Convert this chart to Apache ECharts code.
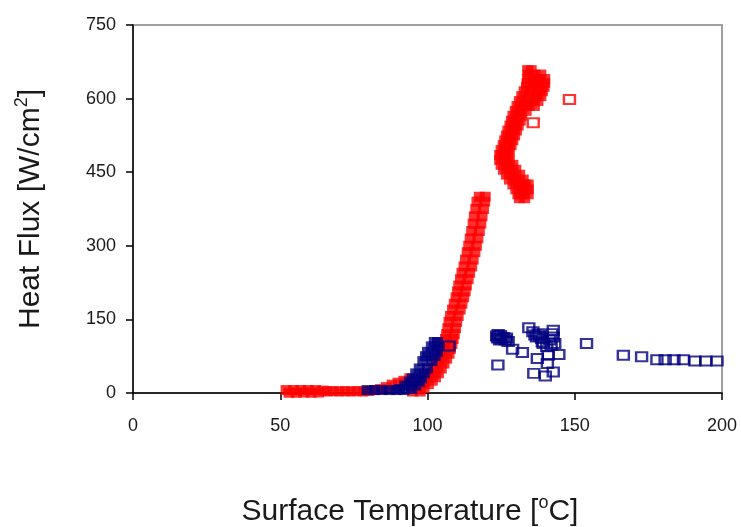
<!DOCTYPE html>
<html>
<head>
<meta charset="utf-8">
<script src="https://cdn.jsdelivr.net/npm/echarts@6/dist/echarts.min.js"></script>
<style>
html,body{margin:0;padding:0;background:#fff;}
#chart{width:741px;height:527px;}
</style>
</head>
<body>
<div id="chart"></div>
<script>
// Axis ticks
const xTicks = [0, 50, 100, 150, 200];
const yTicks = [0, 150, 300, 450, 600, 750];

// Red series: [surface temperature, heat flux]
const redFlat = [[52,6],[53,0.5],[54.5,6],[55.5,0.5],[57,6],[58,1],[59.5,6],[60.5,0.5],[62,6],[63,1],[64.5,5],[66,3],[68,4],[70,3],[72,4],[74,3],[76,4],[78,3],[80,4],[82,6],[84,8],[86,12],[88,17],[90,21],[92,25],[94,30]];
const redRiseA = [[94.9,3],[96.2,10],[97.7,18],[99.0,25],[100.1,32],[101.1,40],[102.1,50],[103.0,60],[103.9,70],[104.7,80],[105.2,90],[105.7,100],[106.1,110],[106.5,120],[106.9,132],[107.3,145],[107.8,157],[108.5,170],[109.1,182],[109.7,195],[110.2,207],[110.6,219],[111.2,232],[111.7,245],[112.4,258],[112.9,272],[113.5,287],[114.0,300],[114.5,315],[115.0,330],[115.5,345],[115.9,360],[116.4,375],[116.8,390],[117.6,400]];
const redRiseB = [[97.5,3],[98.8,10],[100.3,18],[101.6,25],[102.7,32],[103.7,40],[104.7,50],[105.6,60],[106.5,70],[107.3,80],[107.8,90],[108.3,100],[108.7,110],[109.1,120],[109.5,132],[109.9,145],[110.4,157],[111.1,170],[111.7,182],[112.3,195],[112.8,207],[113.2,219],[113.8,232],[114.3,245],[115.0,258],[115.5,272],[116.1,287],[116.6,300],[117.1,315],[117.6,330],[118.1,345],[118.5,360],[119.0,375],[119.4,390],[119.6,400]];
const redCluster = [
[134.0,658],[135.2,658],
[134.2,649],[136.5,649],[138.5,649],
[134.0,640],[136.0,640],[138.0,640],[139.8,640],
[133.8,632],[136.0,632],[138.2,632],[139.8,632],
[133.6,624],[135.8,624],[137.8,624],[139.6,624],
[132.8,615],[135.0,615],[137.2,615],[139.0,615],
[132.0,605],[134.5,605],[136.8,605],[138.5,605],
[131.2,595],[133.5,595],[135.8,595],[137.5,595],
[130.4,585],[132.5,585],[134.5,585],[136.3,585],
[129.8,575],[131.5,575],[133.5,575],
[129.0,565],[130.5,565],[132.0,565],
[128.5,555],[130.0,555],[131.5,555],
[128.0,545],[129.5,545],[130.8,545],
[127.3,535],[128.8,535],[130.2,535],
[126.8,525],[128.2,525],[129.6,525],
[126.2,515],[127.6,515],[129.0,515],
[125.7,505],[127.0,505],[128.4,505],
[125.0,495],[126.4,495],[127.8,495],
[124.5,485],[126.0,485],[127.3,485],
[124.5,475],[126.2,475],[127.8,475],
[125.0,465],[127.0,465],[129.0,465],
[125.8,455],[127.8,455],[130.0,455],
[126.8,445],[129.0,445],[131.3,445],
[127.8,435],[130.0,435],[132.5,435],
[129.0,425],[131.0,425],[133.2,425],[134.2,425],
[130.0,415],[132.0,415],[134.2,415],
[130.7,405],[132.5,405],[134.2,405],
[131.2,397],[133.0,397]
];
const redSparse = [[148.2,598],[135.9,551]];

// Blue series
const blueFlat = [[79.5,6],[82,6],[84.5,6],[87,6],[89.5,6],[92,6]];
const blueRiseLeft = [[90.5,8],[92.3,15],[93.8,23],[94.8,30],[96.0,40],[97.2,50],[98.4,65],[99.3,75],[100.0,84],[101.3,95],[102.3,104]];
const blueRiseRight = [[94.6,8],[96.0,15],[97.2,23],[98.0,30],[99.0,40],[100.0,50],[101.5,65],[102.6,75],[103.4,84],[103.4,95],[103.4,104]];
const blueSparse = [[107.3,96],
[123.8,112],[124.8,117],[125.8,113],[126.5,108],[127.4,105],[124.5,108],[123.5,116],[125.2,110],[126.8,112],[124.0,119],
[128.9,89],[132.2,82.5],[123.9,57],
[134.4,133],[135.8,124.6],[137.6,121],[137.0,114],[138.8,111],[139.3,101],[140.5,94],[139.0,104],[141.5,108],[136.5,118],[138.0,116],
[142.7,128],[142.7,114],[143.2,101],[142.0,97.5],[142.2,121],
[137.3,70.5],[141.0,77],[144.6,78.5],[140.7,60],
[136.1,40],[140.0,34.5],[142.7,43],
[154.0,101],[166.5,77],[172.7,74],[177.9,68],[180.7,68],[183.7,68],[186.9,68],[190.8,65],[194.5,65],[198.3,65]];

const RED = '#ff0000', BLUE = '#000080';
const FONT = "'Liberation Sans', Arial, sans-serif";

const chart = echarts.init(document.getElementById('chart'), null, {renderer: 'canvas'});

function axisCommon(){
  return {
    type: 'value',
    splitLine: {show: false},
    axisLine: {show: true, onZero: false, lineStyle: {color: '#000', width: 1.5}},
    axisTick: {show: true, length: 7, lineStyle: {color: '#000', width: 1.5}},
  };
}

chart.setOption({
  animation: false,
  backgroundColor: '#fff',
  grid: {left: 133, right: 19, top: 25, bottom: 134, containLabel: false, outerBoundsMode: 'none',
         show: true, borderColor: '#a0a0a0', borderWidth: 2, backgroundColor: 'transparent'},
  xAxis: Object.assign(axisCommon(), {
    min: xTicks[0], max: xTicks[xTicks.length-1], interval: xTicks[1]-xTicks[0],
    axisLabel: {fontSize: 18, color: '#1a1a1a', margin: 24, fontFamily: FONT},
    name: '{a|Surface Temperature [}{s|o}{a|C]}',
    nameLocation: 'middle', nameGap: 101,
    nameTextStyle: {padding: [0, 35, 0, 0], rich: {
      a: {fontSize: 30, lineHeight: 36, color: '#1a1a1a', fontFamily: FONT},
      s: {fontSize: 18, lineHeight: 18, verticalAlign: 'top', color: '#1a1a1a', fontFamily: FONT}
    }}
  }),
  yAxis: Object.assign(axisCommon(), {
    min: yTicks[0], max: yTicks[yTicks.length-1], interval: yTicks[1]-yTicks[0],
    axisLabel: {fontSize: 18, color: '#1a1a1a', margin: 17, fontFamily: FONT},
    name: '{a|Heat Flux [W/cm}{s|2}{a|]}',
    nameLocation: 'middle', nameGap: 84,
    nameTextStyle: {rich: {
      a: {fontSize: 30, lineHeight: 36, color: '#1a1a1a', fontFamily: FONT},
      s: {fontSize: 18, lineHeight: 18, verticalAlign: 'top', color: '#1a1a1a', fontFamily: FONT}
    }}
  }),
  series: [
    {type: 'scatter', symbol: 'rect', symbolSize: [11, 10], data: redFlat.concat(redRiseA, redRiseB, redCluster),
     itemStyle: {color: RED, borderColor: RED, borderWidth: 0}, silent: true},
    {type: 'scatter', symbol: 'rect', symbolSize: [11, 9], data: redSparse,
     itemStyle: {color: 'transparent', borderColor: RED, borderWidth: 2.2}, silent: true},
    {type: 'scatter', symbol: 'rect', symbolSize: [11, 10], data: blueFlat.concat(blueRiseLeft, blueRiseRight),
     itemStyle: {color: BLUE, borderColor: BLUE, borderWidth: 0}, silent: true},
    {type: 'scatter', symbol: 'rect', symbolSize: [11, 9], data: blueSparse,
     itemStyle: {color: 'transparent', borderColor: BLUE, borderWidth: 2.2}, silent: true}
  ]
});
</script>
</body>
</html>
